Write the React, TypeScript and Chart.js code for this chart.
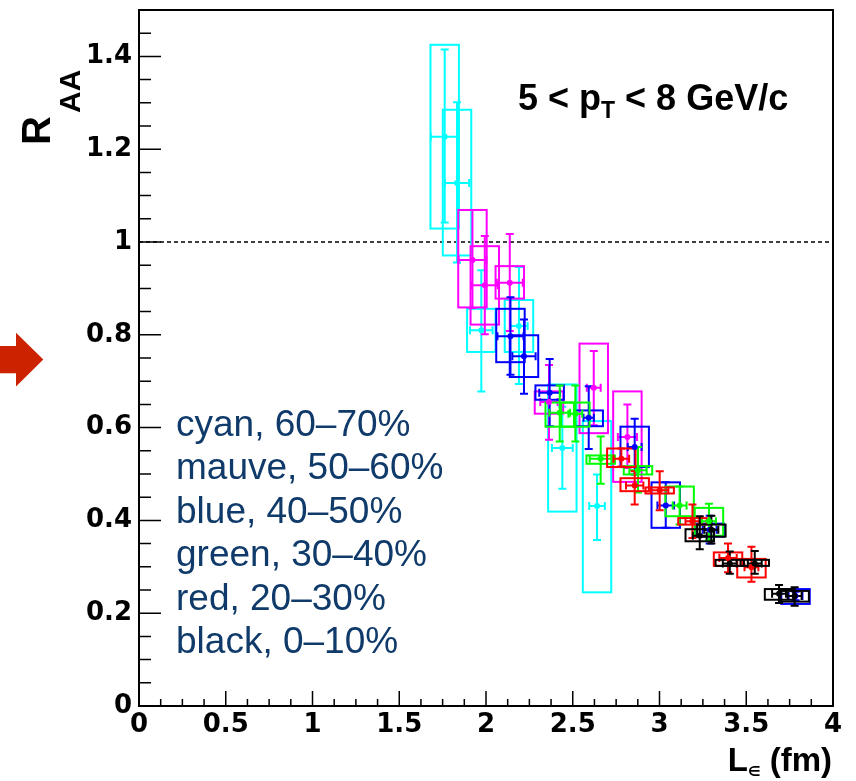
import React, { useEffect, useRef } from 'react';
import { Chart, registerables } from 'chart.js';

Chart.register(...registerables);

// ---------- axis / tick data ----------
const X_MIN = 0;
const X_MAX = 4;
const Y_MIN = 0;
const Y_MAX = 1.5;
const xTickValues = [0, 0.5, 1, 1.5, 2, 2.5, 3, 3.5, 4];
const yTickValues = [0, 0.2, 0.4, 0.6, 0.8, 1, 1.2, 1.4];
const X_MINOR_STEP = 0.125;
const Y_MINOR_STEP = 0.05;
const REF_LINE = 1;
const BOX_HALF_WIDTH = 0.082;

// ---------- series data ----------
// cyan, 60–70%
const cyanX = [1.762, 1.833, 1.973, 2.19, 2.44, 2.64];
const cyanY = [1.227, 1.127, 0.81, 0.819, 0.556, 0.431];
const cyanStatLo = [1.042, 0.956, 0.678, 0.694, 0.468, 0.358];
const cyanStatHi = [1.415, 1.301, 0.939, 0.946, 0.645, 0.499];
const cyanSysLo = [1.029, 0.971, 0.763, 0.763, 0.419, 0.245];
const cyanSysHi = [1.425, 1.285, 0.856, 0.875, 0.693, 0.614];
const cyanXErr = [0.08, 0.07, 0.065, 0.05, 0.06, 0.045];

// mauve, 50–60%
const mauveX = [1.922, 1.993, 2.137, 2.363, 2.621, 2.815];
const mauveY = [0.961, 0.907, 0.912, 0.655, 0.686, 0.58];
const mauveStatLo = [0.858, 0.801, 0.808, 0.574, 0.605, 0.513];
const mauveStatHi = [1.069, 1.013, 1.017, 0.735, 0.765, 0.65];
const mauveSysLo = [0.859, 0.822, 0.878, 0.63, 0.588, 0.483];
const mauveSysHi = [1.069, 0.991, 0.948, 0.678, 0.781, 0.678];
const mauveXErr = [0.08, 0.075, 0.075, 0.05, 0.04, 0.055];

// blue, 40–50%
const blueX = [2.141, 2.219, 2.367, 2.592, 2.857, 3.036, 3.289, 3.784];
const blueY = [0.797, 0.754, 0.675, 0.621, 0.558, 0.432, 0.38, 0.237];
const blueStatLo = [0.714, 0.673, 0.603, 0.554, 0.499, 0.384, 0.35, 0.228];
const blueStatHi = [0.881, 0.833, 0.748, 0.689, 0.619, 0.482, 0.41, 0.246];
const blueSysLo = [0.741, 0.709, 0.66, 0.603, 0.515, 0.384, 0.365, 0.22];
const blueSysHi = [0.856, 0.799, 0.691, 0.637, 0.602, 0.482, 0.393, 0.252];
const blueXErr = [0.075, 0.067, 0.06, 0.03, 0.04, 0.048, 0.04, 0.04];

// green, 30–40%
const greenX = [2.425, 2.515, 2.661, 2.876, 3.116, 3.285];
const greenY = [0.632, 0.63, 0.533, 0.508, 0.432, 0.398];
const greenStatLo = [0.57, 0.57, 0.479, 0.46, 0.391, 0.357];
const greenStatHi = [0.691, 0.691, 0.581, 0.558, 0.473, 0.436];
const greenSysLo = [0.602, 0.602, 0.522, 0.499, 0.409, 0.367];
const greenSysHi = [0.654, 0.654, 0.54, 0.517, 0.473, 0.427];
const greenXErr = [0.06, 0.04, 0.063, 0.05, 0.04, 0.04];

// red, 20–30%
const redX = [2.78, 2.857, 3.001, 3.19, 3.395, 3.53];
const redY = [0.533, 0.475, 0.465, 0.398, 0.319, 0.299];
const redStatLo = [0.516, 0.434, 0.422, 0.362, 0.288, 0.268];
const redStatHi = [0.555, 0.506, 0.506, 0.434, 0.35, 0.343];
const redSysLo = [0.515, 0.463, 0.458, 0.391, 0.302, 0.277];
const redSysHi = [0.555, 0.491, 0.471, 0.405, 0.331, 0.317];
const redXErr = [0.045, 0.05, 0.05, 0.04, 0.05, 0.04];

// black, 0–10%
const blackX = [3.232, 3.299, 3.405, 3.549, 3.689, 3.779];
const blackY = [0.367, 0.38, 0.307, 0.307, 0.242, 0.237];
const blackStatLo = [0.338, 0.35, 0.285, 0.285, 0.222, 0.216];
const blackStatHi = [0.409, 0.41, 0.333, 0.334, 0.261, 0.256];
const blackSysLo = [0.355, 0.365, 0.302, 0.302, 0.229, 0.225];
const blackSysHi = [0.381, 0.391, 0.315, 0.315, 0.252, 0.248];
const blackXErr = [0.04, 0.04, 0.04, 0.04, 0.04, 0.04];

const legendLines = [
  'cyan, 60–70%',
  'mauve, 50–60%',
  'blue, 40–50%',
  'green, 30–40%',
  'red, 20–30%',
  'black, 0–10%',
];

type Series = {
  name: string;
  color: string;
  x: number[];
  y: number[];
  statLo: number[];
  statHi: number[];
  sysLo: number[];
  sysHi: number[];
  xErr: number[];
};

const SERIES: Series[] = [
  { name: 'cyan', color: '#00ffff', x: cyanX, y: cyanY, statLo: cyanStatLo, statHi: cyanStatHi, sysLo: cyanSysLo, sysHi: cyanSysHi, xErr: cyanXErr },
  { name: 'mauve', color: '#ff00ff', x: mauveX, y: mauveY, statLo: mauveStatLo, statHi: mauveStatHi, sysLo: mauveSysLo, sysHi: mauveSysHi, xErr: mauveXErr },
  { name: 'blue', color: '#0000ff', x: blueX, y: blueY, statLo: blueStatLo, statHi: blueStatHi, sysLo: blueSysLo, sysHi: blueSysHi, xErr: blueXErr },
  { name: 'green', color: '#00ff00', x: greenX, y: greenY, statLo: greenStatLo, statHi: greenStatHi, sysLo: greenSysLo, sysHi: greenSysHi, xErr: greenXErr },
  { name: 'red', color: '#ff0000', x: redX, y: redY, statLo: redStatLo, statHi: redStatHi, sysLo: redSysLo, sysHi: redSysHi, xErr: redXErr },
  { name: 'black', color: '#000000', x: blackX, y: blackY, statLo: blackStatLo, statHi: blackStatHi, sysLo: blackSysLo, sysHi: blackSysHi, xErr: blackXErr },
];

const CAP = 4;

const decorPlugin = {
  id: 'decor',
  beforeDatasetsDraw(chart: any) {
    const { ctx, chartArea: a, scales } = chart;
    const xs = scales.x;
    const ys = scales.y;
    // reference dashed line
    ctx.save();
    ctx.strokeStyle = '#000';
    ctx.lineWidth = 1.5;
    ctx.setLineDash([4, 3]);
    const yr = ys.getPixelForValue(REF_LINE);
    ctx.beginPath();
    ctx.moveTo(a.left, yr);
    ctx.lineTo(a.right, yr);
    ctx.stroke();
    ctx.restore();

    for (const s of SERIES) {
      ctx.save();
      ctx.strokeStyle = s.color;
      ctx.lineWidth = 2;
      s.x.forEach((xv, i) => {
        const cx = xs.getPixelForValue(xv);
        const cy = ys.getPixelForValue(s.y[i]);
        const bx0 = xs.getPixelForValue(xv - BOX_HALF_WIDTH);
        const bx1 = xs.getPixelForValue(xv + BOX_HALF_WIDTH);
        const by0 = ys.getPixelForValue(s.sysHi[i]);
        const by1 = ys.getPixelForValue(s.sysLo[i]);
        ctx.strokeRect(bx0, by0, bx1 - bx0, by1 - by0);
        const sy0 = ys.getPixelForValue(s.statHi[i]);
        const sy1 = ys.getPixelForValue(s.statLo[i]);
        const ex0 = xs.getPixelForValue(xv - s.xErr[i]);
        const ex1 = xs.getPixelForValue(xv + s.xErr[i]);
        ctx.beginPath();
        ctx.moveTo(cx, sy0);
        ctx.lineTo(cx, sy1);
        ctx.moveTo(cx - CAP, sy0);
        ctx.lineTo(cx + CAP, sy0);
        ctx.moveTo(cx - CAP, sy1);
        ctx.lineTo(cx + CAP, sy1);
        ctx.moveTo(ex0, cy);
        ctx.lineTo(ex1, cy);
        ctx.moveTo(ex0, cy - CAP);
        ctx.lineTo(ex0, cy + CAP);
        ctx.moveTo(ex1, cy - CAP);
        ctx.lineTo(ex1, cy + CAP);
        ctx.stroke();
      });
      ctx.restore();
    }
  },
  afterDraw(chart: any) {
    const { ctx, chartArea: a, scales } = chart;
    const xs = scales.x;
    const ys = scales.y;
    ctx.save();
    // frame
    ctx.strokeStyle = '#000';
    ctx.lineWidth = 2;
    ctx.strokeRect(a.left, a.top, a.right - a.left, a.bottom - a.top);
    // ticks
    ctx.lineWidth = 1.5;
    ctx.beginPath();
    const nx = Math.round((X_MAX - X_MIN) / X_MINOR_STEP);
    for (let i = 0; i <= nx; i++) {
      const v = X_MIN + i * X_MINOR_STEP;
      const px = xs.getPixelForValue(v);
      const len = i % 4 === 0 ? 15 : 7;
      ctx.moveTo(px, a.bottom);
      ctx.lineTo(px, a.bottom - len);
    }
    const ny = Math.round((Y_MAX - Y_MIN) / Y_MINOR_STEP);
    for (let i = 0; i <= ny; i++) {
      const v = Y_MIN + i * Y_MINOR_STEP;
      const py = ys.getPixelForValue(v);
      const len = i % 4 === 0 ? 22 : 12;
      ctx.moveTo(a.left, py);
      ctx.lineTo(a.left + len, py);
    }
    ctx.stroke();

    // pT annotation
    ctx.fillStyle = '#000';
    ctx.textBaseline = 'alphabetic';
    ctx.textAlign = 'left';
    let tx = 518;
    const tb = 110;
    ctx.font = 'bold 36px "Liberation Sans", Arial, sans-serif';
    const p1 = '5 < p';
    ctx.fillText(p1, tx, tb);
    tx += ctx.measureText(p1).width;
    ctx.font = 'bold 23px "Liberation Sans", Arial, sans-serif';
    ctx.fillText('T', tx, tb + 8);
    tx += ctx.measureText('T').width;
    ctx.font = 'bold 36px "Liberation Sans", Arial, sans-serif';
    ctx.fillText(' < 8 GeV/c', tx, tb);

    // legend text
    ctx.fillStyle = '#0f3a6a';
    ctx.font = '37px "Liberation Sans", Arial, sans-serif';
    legendLines.forEach((t, i) => {
      ctx.fillText(t, 176, 435.7 + i * 43.5);
    });

    // y title R_AA
    ctx.fillStyle = '#000';
    ctx.save();
    ctx.translate(50, 145);
    ctx.rotate(-Math.PI / 2);
    ctx.font = 'bold 40px "Liberation Sans", Arial, sans-serif';
    ctx.fillText('R', 0, 0);
    ctx.font = 'bold 30px "Liberation Sans", Arial, sans-serif';
    ctx.fillText('AA', 32, 30);
    ctx.restore();

    // x title L∈ (fm)
    const titleFont = 'bold 33px "Liberation Sans", Arial, sans-serif';
    const subFont = 'bold 14px "DejaVu Sans", sans-serif';
    ctx.font = titleFont;
    const wL = ctx.measureText('L').width;
    const wFm = ctx.measureText(' (fm)').width;
    ctx.font = subFont;
    const wE = ctx.measureText('∈').width;
    const endX = 832;
    let lx = endX - wFm - wE - wL;
    const lb = 771;
    ctx.font = titleFont;
    ctx.fillText('L', lx, lb);
    lx += wL;
    ctx.font = subFont;
    ctx.fillText('∈', lx, lb + 5);
    lx += wE;
    ctx.font = titleFont;
    ctx.fillText(' (fm)', lx, lb);

    // red arrow
    ctx.fillStyle = '#cc2200';
    ctx.beginPath();
    ctx.moveTo(-2, 346);
    ctx.lineTo(16, 346);
    ctx.lineTo(16, 332.7);
    ctx.lineTo(43.3, 359.5);
    ctx.lineTo(16, 386.5);
    ctx.lineTo(16, 373.3);
    ctx.lineTo(-2, 373.3);
    ctx.closePath();
    ctx.fill();
    ctx.restore();
  },
};

export default function App() {
  const ref = useRef<HTMLCanvasElement | null>(null);
  useEffect(() => {
    const canvas = ref.current;
    if (!canvas) return;
    const tickFont = { family: '"DejaVu Sans", sans-serif', weight: 'bold' as const, size: 26 };
    const chart = new Chart(canvas, {
      type: 'scatter',
      data: {
        datasets: SERIES.map((s, i) => ({
          label: s.name,
          data: s.x.map((xv, j) => ({ x: xv, y: s.y[j] })),
          backgroundColor: s.color,
          borderColor: s.color,
          pointRadius: 3,
          pointBorderWidth: 0,
          pointHoverRadius: 3,
          showLine: false,
          order: SERIES.length - i,
        })),
      },
      options: {
        animation: false,
        responsive: false,
        devicePixelRatio: 1,
        events: [],
        layout: { padding: { left: 0, top: 10, right: 23, bottom: 0 } },
        plugins: { legend: { display: false }, tooltip: { enabled: false }, title: { display: false } },
        scales: {
          x: {
            type: 'linear',
            min: X_MIN,
            max: X_MAX,
            grid: { display: false, drawTicks: false },
            border: { display: false },
            afterBuildTicks: (sc: any) => {
              sc.ticks = xTickValues.map((v) => ({ value: v }));
            },
            afterFit: (sc: any) => {
              sc.height = 75;
              sc.paddingLeft = 0;
              sc.paddingRight = 0;
            },
            ticks: {
              color: '#000',
              font: tickFont,
              padding: 4,
              maxRotation: 0,
              autoSkip: false,
              callback: (v: any) => String(v),
            },
          },
          y: {
            type: 'linear',
            min: Y_MIN,
            max: Y_MAX,
            grid: { display: false, drawTicks: false },
            border: { display: false },
            afterBuildTicks: (sc: any) => {
              sc.ticks = yTickValues.map((v) => ({ value: v }));
            },
            afterFit: (sc: any) => {
              sc.width = 139;
              sc.paddingTop = 0;
              sc.paddingBottom = 0;
            },
            ticks: {
              color: '#000',
              font: tickFont,
              padding: 7,
              autoSkip: false,
              callback: (v: any) => String(v),
            },
          },
        },
      },
      plugins: [decorPlugin],
    } as any);
    return () => chart.destroy();
  }, []);
  return (
    <div style={{ position: 'fixed', left: 0, top: 0, width: 856, height: 781, background: '#fff' }}>
      <canvas ref={ref} width={856} height={781} style={{ display: 'block' }} />
    </div>
  );
}
